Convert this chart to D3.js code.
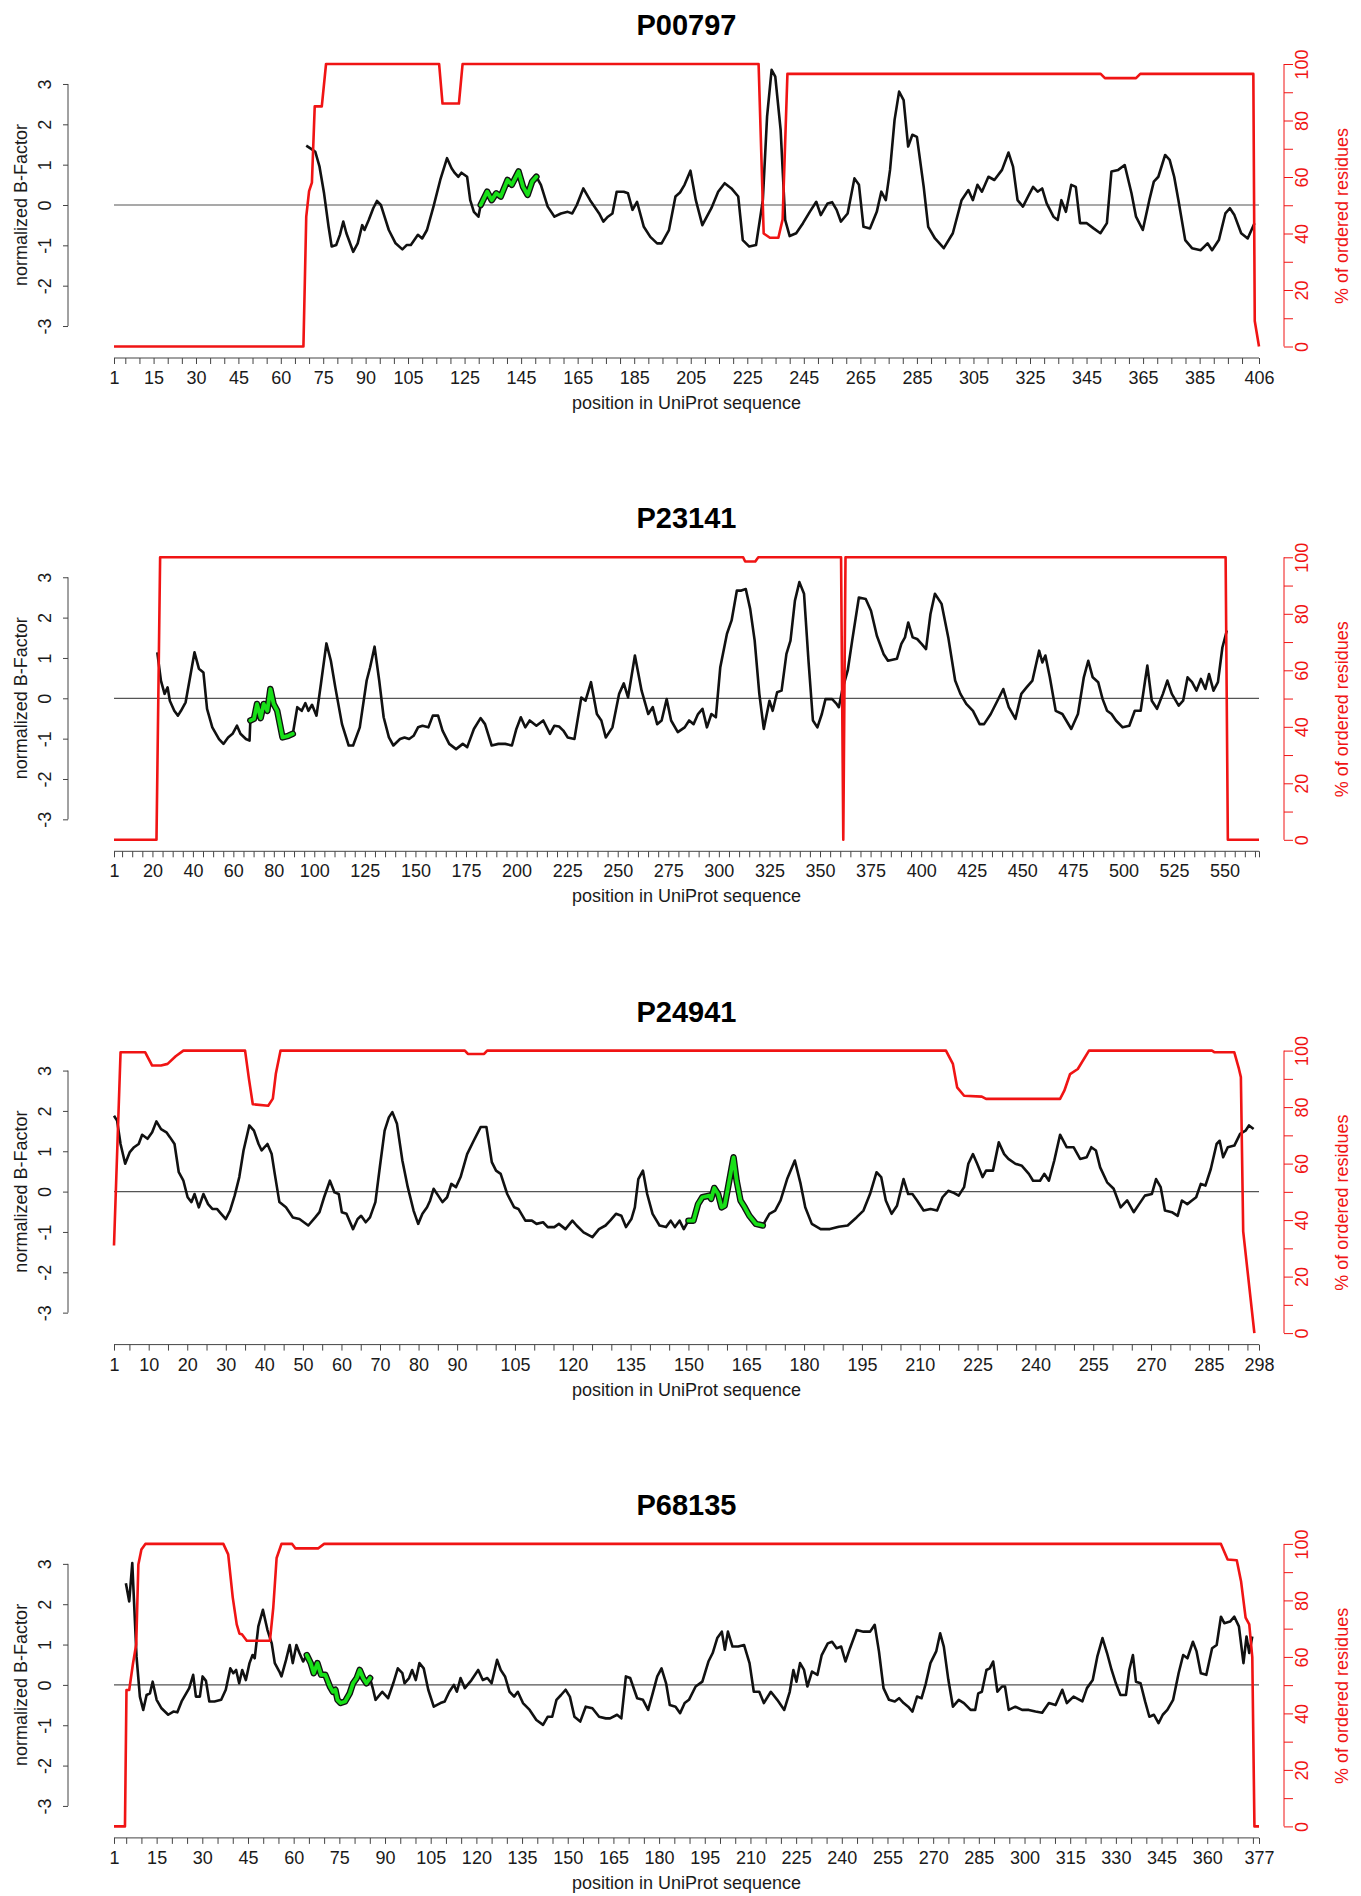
<!DOCTYPE html>
<html>
<head>
<meta charset="utf-8">
<script src="https://cdn.jsdelivr.net/npm/d3@7"></script>
<style>
  html, body { margin: 0; padding: 0; background: #fff; }
  svg { display: block; }
  text { font-family: "Liberation Sans", Arial, Helvetica, sans-serif; }
</style>
</head>
<body>
<svg id="chart" width="1361" height="1896"></svg>
<script>
// --- data: [position, normalized B-factor] ---
const p00797Bfactor = [[69,1.47],[71.4,1.36],[72.2,1.32],[73.7,0.95],[75.3,0.29],[76.9,-0.54],[78,-1.03],[79.6,-0.99],[80.9,-0.74],[82.1,-0.41],[83.2,-0.7],[85.6,-1.16],[87.2,-0.95],[88.8,-0.5],[89.6,-0.62],[91.1,-0.37],[92.7,-0.08],[94,0.1],[95.4,0],[96.7,-0.29],[98.2,-0.62],[100.6,-0.95],[103,-1.1],[104.6,-0.99],[106,-0.99],[108.5,-0.74],[110,-0.83],[111.7,-0.62],[114,-0.04],[116.4,0.62],[118.8,1.16],[120.4,0.91],[121.6,0.79],[122.8,0.7],[123.9,0.8],[125.9,0.7],[127,0.12],[128.3,-0.17],[129.9,-0.29],[130.7,0],[133,0.33],[134.6,0.12],[136.2,0.29],[137.8,0.21],[140.2,0.62],[141.7,0.5],[144.1,0.83],[145.7,0.45],[147.3,0.25],[148.9,0.58],[150.4,0.7],[152,0.5],[154.4,-0.04],[156.8,-0.29],[159.1,-0.21],[161.5,-0.17],[163.1,-0.21],[164.7,0],[167,0.41],[169.4,0.12],[172.6,-0.21],[174.1,-0.41],[175.7,-0.29],[177.3,-0.21],[178.8,0.33],[181.3,0.33],[182.8,0.29],[184.4,-0.12],[186,0.08],[188.4,-0.54],[190.7,-0.79],[193.1,-0.95],[194.7,-0.95],[197.3,-0.62],[199.6,0.21],[201.2,0.31],[202.8,0.5],[204.9,0.85],[206.8,0.12],[209.1,-0.5],[210.7,-0.29],[212.3,-0.08],[214.7,0.33],[217,0.54],[219.4,0.41],[221.8,0.21],[223.4,-0.87],[225.7,-1.03],[228.1,-0.99],[230.5,0.12],[232,2.19],[233.6,3.35],[234.9,3.18],[236.8,1.86],[238.4,-0.37],[240,-0.77],[242.3,-0.7],[244.7,-0.45],[247.1,-0.17],[249.4,0.08],[251,-0.25],[253.4,0.04],[255,0.07],[256.6,-0.12],[258.1,-0.41],[260.5,-0.21],[262.9,0.66],[264.5,0.5],[266.1,-0.54],[268.4,-0.58],[270.8,-0.17],[272.4,0.33],[274,0.12],[275.5,0.87],[277.1,2.11],[278.7,2.81],[280.3,2.6],[281.9,1.45],[283.4,1.74],[285,1.69],[287.4,0.45],[289,-0.54],[291.4,-0.83],[294.5,-1.07],[297.7,-0.7],[300.8,0.12],[303.2,0.37],[304.8,0.12],[306.4,0.5],[308,0.33],[310.3,0.7],[312.4,0.62],[315.1,0.87],[317.4,1.3],[319,0.95],[320.6,0.12],[322.5,-0.04],[324.6,0.25],[326.1,0.45],[327.7,0.33],[329.3,0.41],[330.9,0.04],[333.3,-0.29],[334.8,-0.37],[336.1,0.12],[337.7,-0.17],[339.6,0.5],[341.2,0.45],[342.7,-0.45],[345.1,-0.45],[347.5,-0.58],[349.9,-0.7],[352.2,-0.45],[353.8,0.83],[356.2,0.87],[358.5,0.99],[360.9,0.29],[362.5,-0.29],[364.9,-0.62],[367.2,0.12],[368.8,0.58],[370.4,0.7],[372.8,1.24],[374.4,1.12],[376,0.7],[377.5,0.12],[379.9,-0.87],[382.3,-1.07],[385.4,-1.12],[387.8,-0.95],[389.4,-1.12],[391.8,-0.87],[394.1,-0.21],[395.7,-0.08],[397.3,-0.25],[399.7,-0.7],[402,-0.83],[404.4,-0.45]];
const p23141Bfactor = [[22.4,1.14],[24.2,0.44],[26,0.11],[27.5,0.27],[28.6,-0.06],[30.8,-0.31],[32.6,-0.43],[34.1,-0.31],[36.4,-0.1],[38.6,0.52],[40.8,1.14],[43,0.73],[45.2,0.64],[47,-0.26],[49.6,-0.72],[52.9,-1.01],[55.1,-1.13],[57.4,-0.97],[59.6,-0.88],[61.8,-0.68],[63.5,-0.88],[66.2,-1.01],[68,-1.05],[68.4,-0.55],[70.2,-0.51],[71.7,-0.14],[73.5,-0.49],[75,-0.14],[76.8,-0.31],[78.3,0.23],[79.9,-0.14],[81.7,-0.31],[84.3,-0.97],[87.2,-0.93],[89.4,-0.88],[91.6,-0.22],[93.8,-0.31],[95.6,-0.12],[97.1,-0.31],[98.9,-0.16],[101.1,-0.43],[103.3,0.36],[106,1.36],[108.2,0.93],[110.4,0.27],[113.7,-0.64],[117,-1.17],[119.2,-1.17],[122.5,-0.72],[125.9,0.44],[127.6,0.77],[129.8,1.28],[132.1,0.44],[134.3,-0.47],[136.9,-0.97],[139.1,-1.17],[142.4,-1.01],[144.6,-0.97],[146.9,-1.01],[149.1,-0.93],[151.3,-0.72],[153.5,-0.68],[156.4,-0.72],[158.6,-0.43],[161.2,-0.43],[163.4,-0.8],[166.7,-1.13],[170.1,-1.26],[173.4,-1.13],[175.6,-1.21],[178.9,-0.76],[182.2,-0.49],[184.4,-0.64],[187.7,-1.17],[191,-1.13],[194.4,-1.13],[197.7,-1.17],[199.9,-0.76],[202.1,-0.47],[204.3,-0.72],[206.5,-0.55],[209.8,-0.68],[213.2,-0.55],[216.5,-0.88],[218.7,-0.68],[221,-0.7],[223.1,-0.8],[225.3,-0.97],[228.6,-1.01],[232,0.02],[234.1,-0.06],[236.8,0.4],[239.7,-0.39],[241.9,-0.55],[244.1,-0.97],[247.4,-0.72],[250.7,0.11],[253,0.37],[255.1,0.02],[258.5,1.06],[261.8,0.19],[265.1,-0.39],[267.3,-0.22],[269.5,-0.64],[271.7,-0.55],[274.2,-0.02],[276.4,-0.55],[279.7,-0.84],[283.1,-0.72],[285.3,-0.55],[287.5,-0.64],[289.7,-0.39],[291.9,-0.26],[294.1,-0.72],[296.3,-0.39],[298.5,-0.47],[300.7,0.77],[304,1.6],[306.3,1.93],[308.9,2.67],[311.1,2.67],[313.3,2.71],[315.5,2.21],[317.7,1.43],[320,0.11],[322.2,-0.76],[325,-0.06],[326.6,-0.31],[328.8,0.15],[331,0.19],[333.4,1.1],[335.4,1.43],[337.6,2.42],[339.8,2.88],[342.1,2.59],[344.3,0.93],[346.5,-0.55],[348.7,-0.72],[350.9,-0.39],[352.7,-0.02],[356,-0.02],[358.2,-0.14],[359.3,-0.22],[361.1,0.23],[363.7,0.69],[365.9,1.43],[369.2,2.5],[372.6,2.46],[375.2,2.17],[378.1,1.55],[381.4,1.1],[383.6,0.93],[388,0.98],[390.2,1.35],[392,1.51],[393.6,1.88],[395.8,1.51],[398,1.47],[400.2,1.35],[402.4,1.22],[404.6,2.09],[406.8,2.59],[410.1,2.34],[413.4,1.51],[416.8,0.44],[419.4,0.11],[422.3,-0.14],[425.6,-0.31],[428.9,-0.64],[431.1,-0.64],[434.4,-0.39],[437.7,-0.06],[440.6,0.23],[443.3,-0.22],[446.6,-0.51],[449.5,0.11],[452.1,0.27],[455,0.44],[458.3,1.18],[459.9,0.89],[461.4,1.06],[463.6,0.52],[466.5,-0.31],[469.8,-0.39],[474.2,-0.76],[477.5,-0.39],[480.4,0.52],[482.6,0.93],[484.8,0.52],[487.5,0.4],[489.7,-0.02],[491.9,-0.31],[494.1,-0.39],[496.3,-0.55],[499.6,-0.72],[502.9,-0.68],[505.6,-0.31],[508.5,-0.31],[510.7,0.44],[511.8,0.81],[514,-0.06],[516.6,-0.26],[519.5,0.11],[521.7,0.44],[523.9,0.11],[527.3,-0.18],[529.5,-0.06],[531.7,0.52],[533.9,0.4],[536.1,0.19],[538.3,0.48],[540.5,0.23],[542.3,0.6],[544.5,0.19],[546.7,0.4],[548.9,1.26],[551.1,1.68]];
const p24941Bfactor = [[1,1.88],[1.8,1.76],[2.7,1.18],[3.9,0.69],[5.1,0.98],[6.2,1.1],[7.4,1.18],[8.3,1.41],[9.7,1.31],[10.9,1.47],[12,1.74],[13.2,1.55],[14.6,1.47],[15.5,1.35],[16.7,1.18],[17.8,0.48],[19,0.27],[20.1,-0.14],[21.1,-0.26],[21.9,-0.06],[23,-0.39],[24.2,-0.06],[25.4,-0.31],[26.5,-0.43],[27.7,-0.43],[28.8,-0.55],[30,-0.68],[31.1,-0.47],[32.3,-0.1],[33.5,0.36],[34.6,1.02],[36.1,1.64],[37.3,1.51],[38.5,1.18],[39.3,1.02],[40.8,1.18],[41.9,0.93],[42.7,0.44],[43.9,-0.26],[45.6,-0.39],[47.4,-0.64],[49.1,-0.68],[51.4,-0.84],[53.2,-0.64],[54.3,-0.51],[55.5,-0.14],[57,0.27],[58.2,-0.02],[59.3,-0.06],[60.1,-0.51],[61.3,-0.55],[63,-0.93],[64.2,-0.68],[65.1,-0.6],[66.3,-0.76],[67.4,-0.64],[68.8,-0.26],[70,0.64],[71.2,1.51],[72.3,1.84],[73.2,1.97],[74.4,1.68],[75.8,0.77],[77.2,0.11],[78.7,-0.47],[79.9,-0.8],[81,-0.55],[82.2,-0.39],[83,-0.22],[83.9,0.07],[85.1,-0.1],[86.2,-0.26],[87.4,-0.14],[88.5,0.19],[89.7,0.11],[90.9,0.36],[92.6,0.93],[94.3,1.26],[96.1,1.6],[97.6,1.6],[99,0.73],[100.1,0.52],[101.3,0.44],[103,-0.06],[104.8,-0.39],[105.9,-0.43],[107.7,-0.72],[109.4,-0.72],[110.6,-0.8],[112.3,-0.76],[113.5,-0.88],[115.2,-0.88],[116.4,-0.8],[118.1,-0.93],[119.9,-0.72],[121,-0.84],[122.8,-1.01],[125.1,-1.13],[126.8,-0.93],[128.5,-0.84],[129.7,-0.72],[131.2,-0.55],[132.6,-0.6],[133.8,-0.88],[135.2,-0.68],[136.1,-0.39],[137,0.31],[138.2,0.52],[139.3,-0.06],[140.7,-0.55],[142.5,-0.84],[144.2,-0.88],[145.4,-0.72],[146.5,-0.88],[147.7,-0.72],[148.8,-0.93],[150,-0.72],[151.3,-0.72],[152.5,-0.31],[153.6,-0.14],[155.4,-0.1],[155.9,-0.18],[156.7,0.09],[157.7,-0.06],[158.6,-0.39],[159.4,-0.35],[160.6,0.27],[161.7,0.85],[162.5,0.27],[163.5,-0.22],[164.6,-0.39],[165.8,-0.6],[167.5,-0.8],[169.3,-0.84],[171,-0.55],[172.5,-0.47],[173.9,-0.22],[175.6,0.31],[177.6,0.77],[179.1,0.19],[180.3,-0.39],[182,-0.8],[184.3,-0.93],[186.7,-0.93],[189,-0.87],[191.3,-0.84],[193.6,-0.64],[195.4,-0.47],[197.1,-0.06],[198.8,0.48],[200,0.36],[201.2,-0.22],[202.7,-0.55],[204.1,-0.35],[205.8,0.31],[207,-0.06],[208.1,-0.06],[209.3,-0.22],[211,-0.47],[212.8,-0.43],[214.5,-0.47],[215.9,-0.14],[217.4,0.02],[218.6,-0.02],[220.1,-0.1],[221.5,0.11],[222.6,0.69],[223.8,0.93],[224.9,0.69],[226.3,0.36],[227.2,0.52],[229,0.52],[230.5,1.22],[231.9,0.93],[233,0.81],[234.8,0.69],[236.5,0.64],[238.3,0.44],[239.4,0.27],[241.2,0.27],[242.3,0.44],[243.5,0.27],[244.9,0.77],[246.4,1.41],[248.1,1.1],[249.9,1.1],[251.6,0.81],[253.3,0.85],[254.5,1.1],[255.7,1.02],[256.8,0.6],[258.6,0.23],[260.3,0.07],[262.1,-0.39],[263.8,-0.22],[265.5,-0.51],[266.9,-0.31],[268.4,-0.1],[270.2,-0.06],[271.3,0.31],[272.5,0.11],[273.6,-0.47],[275.4,-0.51],[276.9,-0.6],[278,-0.22],[279.4,-0.31],[280.6,-0.22],[281.7,-0.14],[282.9,0.19],[284.1,0.15],[285.5,0.56],[287,1.18],[287.8,1.26],[288.7,0.85],[289.9,1.1],[291.6,1.14],[293.1,1.43],[294.5,1.51],[295.4,1.64],[296.6,1.55]];
const p68135Bfactor = [[4.9,2.52],[6,2.07],[7,3.02],[8.4,0.7],[9.5,-0.29],[10.6,-0.62],[11.7,-0.25],[12.8,-0.21],[13.7,0.08],[15,-0.37],[16.6,-0.58],[18.8,-0.74],[20.5,-0.66],[21.8,-0.68],[23.2,-0.41],[25.7,-0.08],[27,0.25],[27.9,-0.29],[29.2,-0.29],[30.1,0.21],[31.2,0.1],[32.3,-0.41],[34,-0.41],[36.2,-0.37],[37.7,-0.12],[39.2,0.41],[40.2,0.29],[41.1,0.37],[42.1,0.04],[43.1,0.37],[44.3,0.12],[45.5,0.54],[46.5,0.74],[47.2,0.66],[48.4,1.45],[49.9,1.86],[51.4,1.36],[52.8,1.03],[53.8,0.54],[55.3,0.33],[56,0.21],[57.5,0.62],[58.7,0.99],[59.7,0.54],[60.9,0.99],[61.9,0.79],[63.1,0.58],[64.3,0.74],[65.6,0.54],[66.6,0.29],[67.8,0.54],[69,0.25],[70.4,0.25],[71.9,-0.04],[72.9,-0.17],[73.7,-0.12],[74.4,-0.37],[75.4,-0.45],[76.9,-0.41],[78.4,-0.21],[79.5,0.04],[80.7,0.17],[81.7,0.37],[82.8,0.17],[83.9,0.04],[85.1,0.17],[86.1,-0.12],[86.9,-0.37],[89.1,-0.17],[91,-0.33],[92.7,0.04],[94.2,0.41],[95.7,0.29],[96.4,0.04],[97.9,0.17],[98.9,0.37],[100.1,0.12],[101.3,0.54],[102.7,0.41],[104.2,-0.12],[106,-0.54],[108.2,-0.45],[109.6,-0.41],[111.1,-0.17],[112.6,0],[113.6,-0.17],[114.8,0.17],[116.2,-0.08],[118.4,0.12],[120.6,0.37],[122.1,0.12],[123.6,0.17],[125,0.04],[126.8,0.62],[128,0.37],[129.4,0.21],[130.9,-0.17],[132.4,-0.29],[133.6,-0.17],[135.3,-0.45],[137.5,-0.62],[139.7,-0.87],[141.9,-0.99],[143.4,-0.79],[144.9,-0.79],[146.3,-0.37],[147.8,-0.25],[149.3,-0.12],[150.7,-0.29],[152.2,-0.79],[154.1,-0.91],[155.9,-0.54],[158.1,-0.58],[160.3,-0.79],[162.5,-0.83],[163.9,-0.83],[166.2,-0.74],[167.6,-0.83],[169.1,0.21],[170.5,0.17],[172.8,-0.33],[174.7,-0.37],[176.4,-0.62],[177.9,-0.21],[179.4,0.21],[180.8,0.41],[182.3,0.04],[183.5,-0.5],[185.4,-0.54],[186.9,-0.7],[188.4,-0.45],[189.8,-0.37],[192,-0.04],[194.2,0.08],[196.2,0.58],[197.6,0.79],[199.1,1.16],[200.6,1.32],[201.6,0.87],[202.6,1.32],[204.1,0.95],[206,0.95],[207.9,0.99],[209.7,0.54],[211.1,-0.17],[212.9,-0.17],[214.4,-0.45],[216.7,-0.17],[218.8,-0.37],[221.1,-0.62],[222.9,-0.17],[224.1,0.37],[225.1,0.08],[226.3,0.54],[227.6,0.37],[228.7,-0.04],[230.2,0.33],[232,0.25],[233.4,0.74],[235.4,1.03],[236.8,1.07],[238.3,0.91],[239.8,0.95],[241.2,0.58],[242.7,0.91],[244.9,1.36],[247.1,1.32],[249.3,1.32],[250.8,1.49],[252.2,0.83],[253.7,-0.08],[255.5,-0.37],[257.4,-0.41],[258.8,-0.33],[260.3,-0.45],[261.8,-0.54],[263.2,-0.66],[264.7,-0.29],[266.2,-0.33],[267.6,0.04],[269.1,0.54],[271,0.83],[272.3,1.28],[273.5,0.95],[275,0.12],[276.5,-0.54],[278.4,-0.37],[280.1,-0.45],[282.3,-0.62],[283.8,-0.62],[284.8,-0.21],[286,-0.17],[287.5,0.37],[288.6,0.41],[289.7,0.58],[291.1,-0.17],[292.6,-0.04],[293.6,-0.04],[294.8,-0.62],[297,-0.54],[299.2,-0.62],[301.4,-0.62],[303.6,-0.66],[305.8,-0.69],[308,-0.45],[310.2,-0.5],[312.4,-0.12],[313.9,-0.45],[316.1,-0.29],[319,-0.41],[320.5,-0.08],[322.4,0.12],[323.9,0.7],[325.6,1.16],[327.1,0.79],[328.6,0.37],[330,0.04],[331.5,-0.25],[333.3,-0.25],[334.4,0.37],[335.6,0.74],[336.6,0.08],[338.1,0.04],[339.6,-0.41],[341,-0.79],[342.5,-0.74],[344,-0.95],[345.4,-0.74],[346.9,-0.62],[348.8,-0.37],[350.6,0.29],[352.1,0.74],[353.5,0.66],[355.3,1.07],[356.5,0.83],[357.9,0.29],[359.7,0.25],[361.6,0.91],[363.1,0.99],[364.5,1.69],[365.6,1.53],[367.5,1.57],[368.9,1.69],[370.4,1.45],[371.9,0.54],[372.9,1.2],[373.8,0.79],[374.8,1.2]];

// --- % of ordered residues: [position, percent] ---
const p00797Ordered = [[1,0],[68,0],[69,46],[70,55],[71,58],[72,85],[74.5,85],[76,100],[116,100],[117.2,86],[123,86],[124.3,100],[229,100],[230.8,40],[233,38.5],[236,38.5],[237.5,45],[239.2,96.5],[350,96.5],[351.5,95],[362.5,95],[364,96.5],[404,96.5],[404.5,9],[406,0]];
const p23141Ordered = [[1,0],[22,0],[23.8,100],[312,100],[313,98.5],[318,98.5],[319.5,100],[360.4,100],[361.5,0],[362.6,100],[550.5,100],[551.6,0],[567,0]];
const p24941Ordered = [[1,31],[2.7,99.4],[9.1,99.4],[10.9,94.7],[13.2,94.7],[14.9,95.3],[17,98],[19,100],[35,100],[36,90],[37,81],[41,80.5],[42.2,83],[43,92],[44.2,100],[92,100],[92.8,98.8],[97,98.8],[97.8,100],[216.8,100],[218.6,95.3],[219.7,87],[221.5,84],[226.1,83.7],[227.2,82.9],[246.4,82.9],[247.5,85.8],[249,91.7],[251,93.5],[253.9,100],[285.8,100],[286.5,99.4],[291.6,99.4],[292.8,93.5],[293.3,90.6],[293.9,36],[296.8,0]];
const p68135Ordered = [[1,0],[4.6,0],[5.1,48.3],[6,48.3],[7.2,57.4],[8.3,64.5],[9,92.7],[10,98],[11.3,100],[36.9,100],[38.5,96.3],[40,81],[41.3,71.5],[42.2,68.2],[43,68],[44.6,65.7],[52.2,65.7],[53.3,77.4],[54.4,95],[56,100],[59.5,100],[60.6,98.4],[68,98.4],[70,100],[364.5,100],[366.7,94.5],[369.7,94.2],[371.1,86.8],[372.6,73.9],[373.8,71.5],[374.8,59.8],[375.5,0],[377,0]];

// highlighted stretch (green) [from, to]
const p00797Highlight = [130.7, 150.4];
const p23141Highlight = [68.4, 89.4];
const p24941Highlight = [149, 169.3];
const p68135Highlight = [64.3, 85.1];

// labelled x ticks as they appear
const p00797Labels = [1,15,30,45,60,75,90,105,125,145,165,185,205,225,245,265,285,305,325,345,365,385,406];
const p23141Labels = [1,20,40,60,80,100,125,150,175,200,225,250,275,300,325,350,375,400,425,450,475,500,525,550];
const p24941Labels = [1,10,20,30,40,50,60,70,80,90,105,120,135,150,165,180,195,210,225,240,255,270,285,298];
const p68135Labels = [1,15,30,45,60,75,90,105,120,135,150,165,180,195,210,225,240,255,270,285,300,315,330,345,360,377];

const bfactorTicks = [-3, -2, -1, 0, 1, 2, 3];
const orderedTicks = [0, 10, 20, 30, 40, 50, 60, 70, 80, 90, 100];
const orderedLabels = [0, 20, 40, 60, 80, 100];

const panels = [
  { id: "P00797", length: 406, bfactor: p00797Bfactor, ordered: p00797Ordered, highlight: p00797Highlight, labels: p00797Labels },
  { id: "P23141", length: 567, bfactor: p23141Bfactor, ordered: p23141Ordered, highlight: p23141Highlight, labels: p23141Labels },
  { id: "P24941", length: 298, bfactor: p24941Bfactor, ordered: p24941Ordered, highlight: p24941Highlight, labels: p24941Labels },
  { id: "P68135", length: 377, bfactor: p68135Bfactor, ordered: p68135Ordered, highlight: p68135Highlight, labels: p68135Labels },
];

const RED = "#f01414";
const AXIS = "#444";
const panelStep = 493.3;

const svg = d3.select("#chart");
svg.append("rect").attr("width", 1361).attr("height", 1896).attr("fill", "#fff");

function minorTicks(length) {
  const ticks = [1];
  for (let v = 5; v <= length - 2; v += 5) ticks.push(v);
  ticks.push(length);
  return ticks;
}

function styleAxis(g, color) {
  g.select(".domain").remove();
  g.selectAll(".tick line").attr("stroke", color).attr("stroke-width", 1);
  g.selectAll(".tick text")
    .attr("fill", color === AXIS ? "#1a1a1a" : color)
    .attr("font-size", 18)
    .attr("font-family", "Liberation Sans, Arial, sans-serif");
}

panels.forEach((panel, i) => {
  const g = svg.append("g").attr("transform", `translate(0,${i * panelStep})`);

  const x = d3.scaleLinear().domain([1, panel.length]).range([114, 1259]);
  const yB = d3.scaleLinear().domain([-3.5, 3.5]).range([346.2, 63.8]);
  const yR = d3.scaleLinear().domain([0, 100]).range([346.5, 64]);

  // title
  g.append("text")
    .attr("x", 686.5)
    .attr("y", 35)
    .attr("text-anchor", "middle")
    .attr("font-size", 29)
    .attr("font-weight", "bold")
    .attr("fill", "#000")
    .text(panel.id);

  // x axis
  const labelSet = new Set(panel.labels);
  const xTicks = Array.from(new Set(minorTicks(panel.length).concat(panel.labels))).sort((a, b) => a - b);
  const xAxis = g.append("g")
    .attr("transform", "translate(0,358)")
    .call(d3.axisBottom(x).tickValues(xTicks).tickSize(6).tickSizeOuter(0)
      .tickFormat((d) => (labelSet.has(d) ? String(d) : "")));
  styleAxis(xAxis, AXIS);
  xAxis.selectAll(".tick text").attr("y", 26).attr("dy", null);
  xAxis.append("line")
    .attr("x1", x(1)).attr("x2", x(panel.length))
    .attr("stroke", AXIS).attr("stroke-width", 1);

  g.append("text")
    .attr("x", 686.5)
    .attr("y", 409)
    .attr("text-anchor", "middle")
    .attr("font-size", 18)
    .attr("fill", "#1a1a1a")
    .text("position in UniProt sequence");

  // left axis (normalized B-Factor)
  const leftAxis = g.append("g")
    .attr("transform", "translate(68,0)")
    .call(d3.axisLeft(yB).tickValues(bfactorTicks).tickSize(5).tickFormat((d) => String(d)));
  styleAxis(leftAxis, AXIS);
  leftAxis.selectAll(".tick text")
    .attr("x", null).attr("dy", null)
    .attr("text-anchor", "middle")
    .attr("transform", "translate(-17,0) rotate(-90)");
  leftAxis.append("line")
    .attr("y1", yB(-3)).attr("y2", yB(3))
    .attr("stroke", AXIS).attr("stroke-width", 1);

  g.append("text")
    .attr("transform", "translate(26.5,205) rotate(-90)")
    .attr("text-anchor", "middle")
    .attr("font-size", 18)
    .attr("fill", "#1a1a1a")
    .text("normalized B-Factor");

  // right axis (% of ordered residues)
  const orderedSet = new Set(orderedLabels);
  const rightAxis = g.append("g")
    .attr("transform", "translate(1284,0)")
    .call(d3.axisRight(yR).tickValues(orderedTicks).tickSize(9)
      .tickFormat((d) => (orderedSet.has(d) ? String(d) : "")));
  styleAxis(rightAxis, RED);
  rightAxis.selectAll(".tick text")
    .attr("x", null).attr("dy", null)
    .attr("text-anchor", "middle")
    .attr("transform", "translate(24,0) rotate(-90)");
  rightAxis.append("line")
    .attr("y1", yR(0)).attr("y2", yR(100))
    .attr("stroke", RED).attr("stroke-width", 1);

  g.append("text")
    .attr("transform", "translate(1348,216) rotate(-90)")
    .attr("text-anchor", "middle")
    .attr("font-size", 18)
    .attr("fill", RED)
    .text("% of ordered residues");

  // zero reference line
  g.append("line")
    .attr("x1", x(1)).attr("x2", x(panel.length))
    .attr("y1", yB(0)).attr("y2", yB(0))
    .attr("stroke", "#555").attr("stroke-width", 1.2);

  const bLine = d3.line().x((d) => x(d[0])).y((d) => yB(d[1]));
  const rLine = d3.line().x((d) => x(d[0])).y((d) => yR(d[1]));

  g.append("path")
    .datum(panel.bfactor)
    .attr("d", bLine)
    .attr("fill", "none")
    .attr("stroke", "#111")
    .attr("stroke-width", 2.6)
    .attr("stroke-linejoin", "round");

  const hl = panel.bfactor.filter((d) => d[0] >= panel.highlight[0] && d[0] <= panel.highlight[1]);
  g.append("path")
    .datum(hl)
    .attr("d", bLine)
    .attr("fill", "none")
    .attr("stroke", "#111")
    .attr("stroke-width", 6.5)
    .attr("stroke-linejoin", "round")
    .attr("stroke-linecap", "round");
  g.append("path")
    .datum(hl)
    .attr("d", bLine)
    .attr("fill", "none")
    .attr("stroke", "#18e018")
    .attr("stroke-width", 3.8)
    .attr("stroke-linejoin", "round")
    .attr("stroke-linecap", "round");

  g.append("path")
    .datum(panel.ordered)
    .attr("d", rLine)
    .attr("fill", "none")
    .attr("stroke", RED)
    .attr("stroke-width", 2.6)
    .attr("stroke-linejoin", "round");
});
</script>
</body>
</html>
